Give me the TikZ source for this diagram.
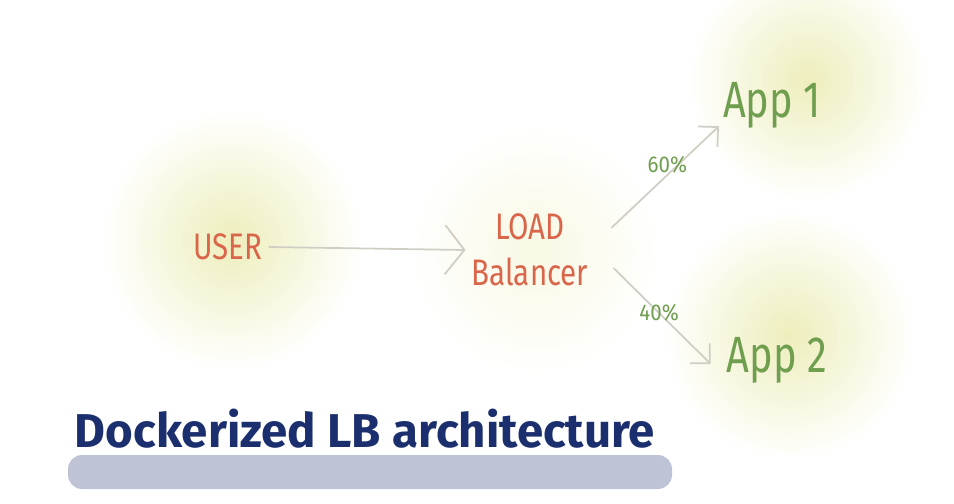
\documentclass[tikz,border=0pt]{standalone}
\usepackage{fontspec}
\setmainfont{Fira Sans}
\usetikzlibrary{positioning, arrows.meta, fadings}
\definecolor{glow}{RGB}{232,232,166}
\definecolor{usertext}{RGB}{217,102,74}
\definecolor{apptext}{RGB}{110,158,78}
\definecolor{titletext}{RGB}{27,46,110}
\definecolor{barcolor}{RGB}{190,195,214}
\definecolor{linkcolor}{RGB}{208,206,196}
\tikzfading[name=glowfade, inner color=transparent!0, outer color=transparent!100]
\tikzset{x=0.02cm, y=-0.02cm, % coordinates in pixels
halo/.style={fill=glow, path fading=glowfade, opacity=0.75}, % soft yellow spot
actor/.style={text=usertext, font=\fontsize{21}{24}\selectfont\addfontfeature{FakeStretch=0.8}, align=center},
app/.style={text=apptext, font=\fontsize{29}{32}\selectfont\addfontfeature{FakeStretch=0.78}},
share/.style={text=apptext, font=\fontsize{13}{15}\selectfont\addfontfeature{FakeStretch=0.9}},
link/.style={draw=linkcolor, line width=1pt, -{Straight Barb[length=8pt, width=16pt]}}}

\begin{document}
\begin{tikzpicture}

    \useasboundingbox (0,0) rectangle (954,504);

    % glows behind the nodes
    \fill[halo] (232,240) circle (130);
    \fill[halo, opacity=0.3] (535,250) circle (125);
    \fill[halo] (808,80) circle (120);
    \fill[halo] (790,335) circle (125);

    \node[actor] (user) at (228,247) {USER};
    \node[actor] (lb) at (530,250) {LOAD\\[2pt]Balancer};
    \node[app] (app1) at (772,105) {App 1};
    \node[app] (app2) at (777,360) {App 2};

    \draw[link, -{Straight Barb[length=11pt, width=28pt]}] (user.east) -- (lb.west);
    \draw[link] ([shift={(17,20)}]lb.north east) -- ([shift={(2,-8)}]app1.south west)
        node[share, pos=0.52, above=-3pt] {60\%};
    \draw[link] ([shift={(19,18)}]lb.east) -- ([shift={(-10,4)}]app2.west)
        node[share, pos=0.47] {40\%};

    % title and its stroke
    \fill[barcolor, rounded corners=8pt] (68,455) rectangle (672,489);
    \node[text=titletext, font=\fontsize{27}{30}\selectfont\bfseries] (title) at (365,429) {Dockerized LB architecture};

\end{tikzpicture}
\end{document}
